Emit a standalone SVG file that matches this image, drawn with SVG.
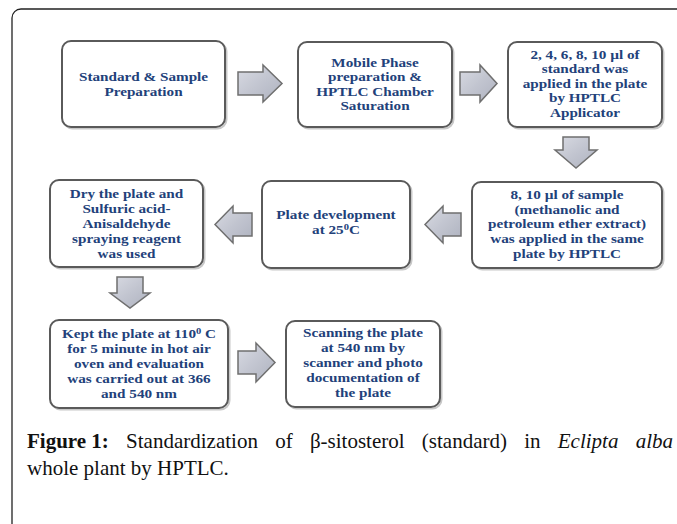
<svg xmlns="http://www.w3.org/2000/svg" width="677" height="524" viewBox="0 0 677 524">
<style>
.box{fill:#fff;stroke:#5a5a5a;stroke-width:2}
.shadow{fill:none;stroke:#c8c8c8;stroke-width:2}
.arr{fill:url(#ag);stroke:#6f6f6f;stroke-width:1.5;stroke-linejoin:miter}
.t{font-family:"Liberation Serif","Times New Roman",serif;font-weight:bold;font-size:13px;fill:#22417a;text-anchor:middle}
.cap{font-family:"Liberation Serif","Times New Roman",serif;font-size:21px;fill:#111}
</style>
<defs>
<linearGradient id="ag" x1="0" y1="0" x2="1" y2="1">
<stop offset="0" stop-color="#d9dbe3"/>
<stop offset="0.5" stop-color="#c2c5d0"/>
<stop offset="1" stop-color="#aeb2bf"/>
</linearGradient>
</defs>
<rect x="12" y="9" width="720" height="580" rx="9" fill="#fff" stroke="#222" stroke-width="1.3"/>

<g id="connectors">
<polygon class="arr" points="238,72 263,72 263,65 282,83.5 263,102 263,95 238,95"/>
<polygon class="arr" points="460,72 480,72 480,65 497,83.5 480,102 480,95 460,95"/>
<polygon class="arr" points="563,137 589,137 589,150 597,150 576,168 555,150 563,150"/>
<polygon class="arr" points="461,213 443,213 443,206 425,224.5 443,243 443,236 461,236"/>
<polygon class="arr" points="252,213 233,213 233,206 215,224.5 233,243 233,236 252,236"/>
<polygon class="arr" points="117,277 143,277 143,293 150,293 130,308 110,293 117,293"/>
<polygon class="arr" points="238,351 256,351 256,343 275,362.5 256,382 256,374 238,374"/>
</g>

<g id="n1">
<rect class="shadow" x="63.5" y="42.5" width="163" height="86" rx="9"/>
<rect class="box" x="62" y="41" width="163" height="86" rx="9"/>
<g transform="translate(143.5 0) scale(1.17 1)">
<text class="t" x="0" y="81">Standard &amp; Sample</text>
<text class="t" x="0" y="96">Preparation</text>
</g>
</g>

<g id="n2">
<rect class="shadow" x="299.5" y="43.5" width="154" height="85" rx="9"/>
<rect class="box" x="298" y="42" width="154" height="85" rx="9"/>
<g transform="translate(375 0) scale(1.17 1)">
<text class="t" x="0" y="67">Mobile Phase</text>
<text class="t" x="0" y="81">preparation  &amp;</text>
<text class="t" x="0" y="96">HPTLC Chamber</text>
<text class="t" x="0" y="110">Saturation</text>
</g>
</g>

<g id="n3">
<rect class="shadow" x="509.5" y="43.5" width="154" height="85" rx="9"/>
<rect class="box" x="508" y="42" width="154" height="85" rx="9"/>
<g transform="translate(585 0) scale(1.17 1)">
<text class="t" x="0" y="59">2, 4, 6, 8, 10 µl of</text>
<text class="t" x="0" y="73">standard was</text>
<text class="t" x="0" y="88">applied in the plate</text>
<text class="t" x="0" y="102">by HPTLC</text>
<text class="t" x="0" y="117">Applicator</text>
</g>
</g>

<g id="n4">
<rect class="shadow" x="473.5" y="183.5" width="190" height="86" rx="9"/>
<rect class="box" x="472" y="182" width="190" height="86" rx="9"/>
<g transform="translate(567 0) scale(1.17 1)">
<text class="t" x="0" y="199">8, 10 µl of sample</text>
<text class="t" x="0" y="214">(methanolic and</text>
<text class="t" x="0" y="228">petroleum ether extract)</text>
<text class="t" x="0" y="243">was applied in the same</text>
<text class="t" x="0" y="258">plate by HPTLC</text>
</g>
</g>

<g id="n5">
<rect class="shadow" x="263.5" y="182.5" width="148" height="87" rx="9"/>
<rect class="box" x="262" y="181" width="148" height="87" rx="9"/>
<g transform="translate(336 0) scale(1.17 1)">
<text class="t" x="0" y="219">Plate development</text>
<text class="t" x="0" y="234">at 25<tspan font-size="9" dy="-4">0</tspan><tspan dy="4">C</tspan></text>
</g>
</g>

<g id="n6">
<rect class="shadow" x="51.5" y="181.5" width="153" height="87" rx="9"/>
<rect class="box" x="50" y="180" width="153" height="87" rx="9"/>
<g transform="translate(126.5 0) scale(1.17 1)">
<text class="t" x="0" y="198">Dry the plate and</text>
<text class="t" x="0" y="213">Sulfuric  acid-</text>
<text class="t" x="0" y="228">Anisaldehyde</text>
<text class="t" x="0" y="243">spraying  reagent</text>
<text class="t" x="0" y="258">was used</text>
</g>
</g>

<g id="n7">
<rect class="shadow" x="51.5" y="321.5" width="178" height="88" rx="9"/>
<rect class="box" x="50" y="320" width="178" height="88" rx="9"/>
<g transform="translate(139 0) scale(1.17 1)">
<text class="t" x="0" y="338">Kept the plate at 110<tspan font-size="9" dy="-4">0</tspan><tspan dy="4"> C</tspan></text>
<text class="t" x="0" y="353">for 5 minute in hot air</text>
<text class="t" x="0" y="368">oven and evaluation</text>
<text class="t" x="0" y="383">was carried out at 366</text>
<text class="t" x="0" y="398">and 540 nm</text>
</g>
</g>

<g id="n8">
<rect class="shadow" x="287.5" y="322.5" width="154" height="86" rx="9"/>
<rect class="box" x="286" y="321" width="154" height="86" rx="9"/>
<g transform="translate(363 0) scale(1.17 1)">
<text class="t" x="0" y="337">Scanning the plate</text>
<text class="t" x="0" y="352">at 540 nm by</text>
<text class="t" x="0" y="367">scanner and photo</text>
<text class="t" x="0" y="382">documentation of</text>
<text class="t" x="0" y="397">the plate</text>
</g>
</g>

<text class="cap" x="27" y="448" word-spacing="12"><tspan font-weight="bold" word-spacing="0">Figure 1:</tspan> Standardization of β-sitosterol (standard) in <tspan font-style="italic">Eclipta alba</tspan></text>
<text class="cap" x="27" y="475">whole plant by HPTLC.</text>
</svg>
